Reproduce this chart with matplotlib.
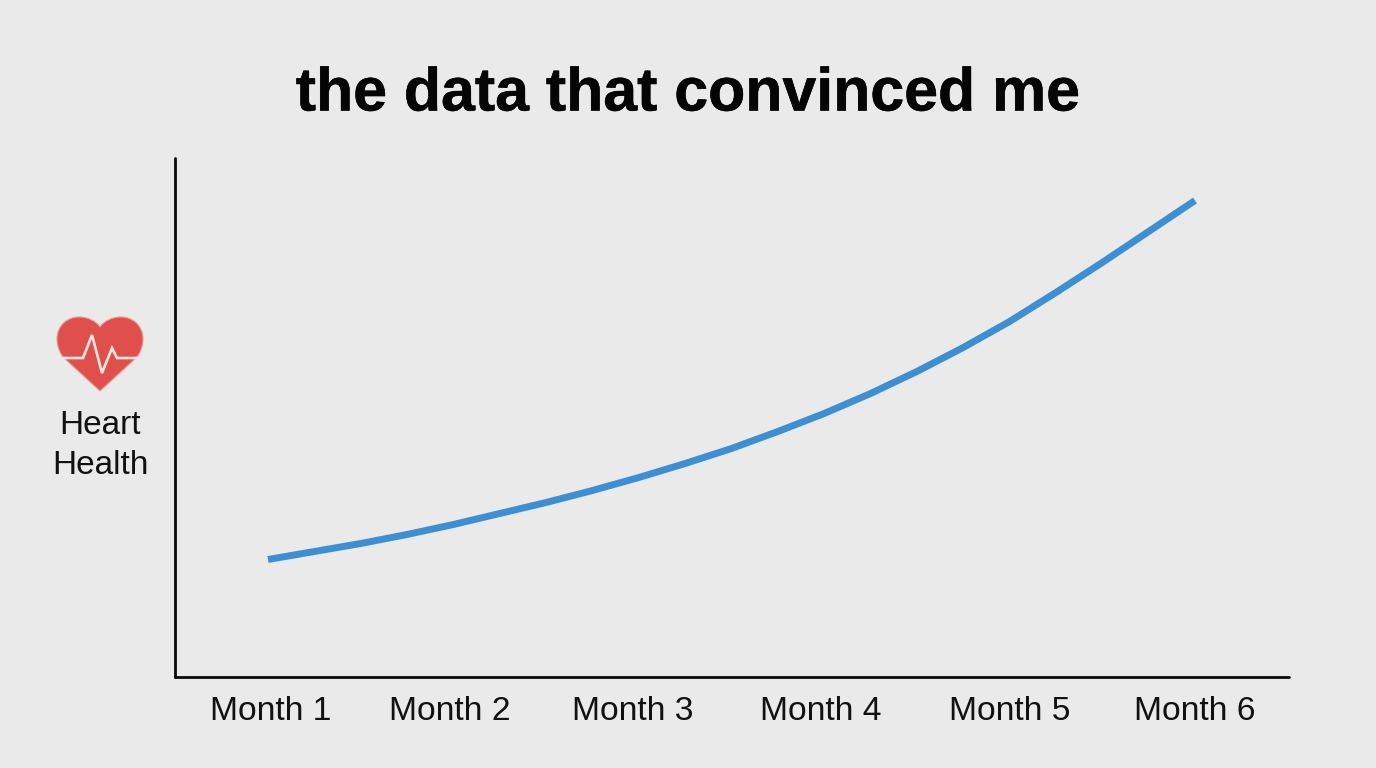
import matplotlib
matplotlib.use('Agg')
import matplotlib.pyplot as plt
import matplotlib.patheffects as pe
from matplotlib.patches import PathPatch
from matplotlib.path import Path

plt.rcParams['font.family'] = ['Liberation Sans', 'DejaVu Sans']

title = 'the data that convinced me'
months = ['Month 1', 'Month 2', 'Month 3', 'Month 4', 'Month 5', 'Month 6']
month_pos = [1, 2, 3, 4, 5, 6]
curve_x = [1, 1.25, 1.5, 1.75, 2, 2.25, 2.5, 2.75, 3, 3.25, 3.5,
           3.75, 4, 4.25, 4.5, 4.75, 5, 5.25, 5.5, 5.75, 6]
curve_y = [117, 125, 133, 142, 152, 163, 174, 186, 199, 213, 228,
           245, 263, 283, 305, 329, 355, 384, 414, 445, 476]
label_shift = [3, -3.5, -6, -3, 0, 0]

W, H = 1376, 768
BG = '#eaeaea'

fig = plt.figure(figsize=(W / 100, H / 100), dpi=100, facecolor=BG)


def px_axes(left, top, right, bottom):
    return fig.add_axes([left / W, 1 - bottom / H, (right - left) / W, (bottom - top) / H])


ax = px_axes(174.5, 158, 1289, 676.5)
ax.set_facecolor('none')
ax.plot(curve_x, curve_y, color='#3d8fd4', lw=5, solid_capstyle='butt', solid_joinstyle='round')

# x limits put month 1 and month 6 where the curve starts and stops
ax.set_xlim(1 - 93.5 / 185.4, 6 + 94 / 185.4)
ax.set_ylim(0, 518.5)
ax.set_yticks([])
ax.set_xticks(month_pos)
ax.set_xticklabels([])
ax.tick_params(axis='x', length=0)
for side in ['top', 'right']:
    ax.spines[side].set_visible(False)
for side in ['left', 'bottom']:
    ax.spines[side].set_linewidth(2)
    ax.spines[side].set_color('#0a0a0a')
    ax.spines[side].set_capstyle('round')

for pos, name, shift in zip(month_pos, months, label_shift):
    ax.annotate(name, xy=(pos, 0), xycoords=('data', 'axes fraction'),
                xytext=(shift * 0.72, -35.5 * 0.72), textcoords='offset points',
                ha='center', va='center', fontsize=24.2, color='#111111')

# overlay in pixel coordinates for the title and the heart icon
top = fig.add_axes([0, 0, 1, 1])
top.set_xlim(0, W)
top.set_ylim(H, 0)
top.axis('off')

top.text(688, 95, title, ha='center', va='center', fontsize=43.8, fontweight='bold', color='#050505',
         path_effects=[pe.withStroke(linewidth=0.4, foreground='#050505')])
top.text(100, 426, 'Heart', ha='center', va='center', fontsize=24, color='#111111')
top.text(100, 466, 'Health', ha='center', va='center', fontsize=24, color='#111111')

heart = Path(
    [(100, 391), (64, 358), (60, 354), (57, 346), (57, 339), (57, 326), (67, 317), (79, 317),
     (88, 317), (96, 321), (100, 327), (104, 321), (112, 317), (121, 317),
     (133, 317), (143, 326), (143, 339), (143, 346), (140, 354), (136, 358), (100, 391), (100, 391)],
    [Path.MOVETO, Path.LINETO, Path.CURVE4, Path.CURVE4, Path.CURVE4, Path.CURVE4, Path.CURVE4, Path.CURVE4,
     Path.CURVE4, Path.CURVE4, Path.CURVE4, Path.CURVE4, Path.CURVE4, Path.CURVE4,
     Path.CURVE4, Path.CURVE4, Path.CURVE4, Path.CURVE4, Path.CURVE4, Path.CURVE4, Path.LINETO, Path.CLOSEPOLY],
)
top.add_patch(PathPatch(heart, facecolor='#df4f4b', edgecolor='#ee9a90', lw=0.8))
top.plot([64, 83, 92, 102, 112, 117, 137], [358, 358, 335, 373, 348, 358, 358],
         color='#fbe6e0', lw=1.9, solid_joinstyle='miter')

fig.savefig('out.png', dpi=100, facecolor=BG)
